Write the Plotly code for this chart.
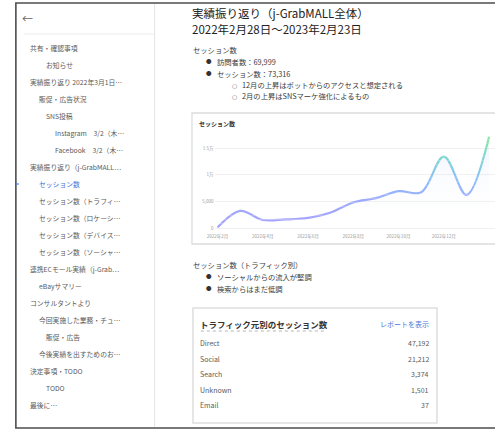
import plotly.graph_objects as go

W, H = 495, 432
FONT = "Noto Sans CJK JP"

# ---- monthly sessions (line chart) ----
months = ["2022年2月", "2022年3月", "2022年4月", "2022年5月", "2022年6月", "2022年7月",
          "2022年8月", "2022年9月", "2022年10月", "2022年11月", "2022年12月",
          "2023年1月", "2023年2月"]
sessions = [100, 3200, 1500, 1600, 1900, 2900, 4800, 5600, 6900, 6700, 13400, 6200, 17100]
x_tick_labels = ["2022年2月", "2022年4月", "2022年6月", "2022年8月", "2022年10月", "2022年12月"]
y_tick_values = [0, 5000, 10000, 15000]
y_tick_labels = ["0", "5,000", "1万", "1.5万"]

# ---- sessions by traffic source (table card) ----
traffic_sources = ["Direct", "Social", "Search", "Unknown", "Email"]
traffic_sessions = [47192, 21212, 3374, 1501, 37]

# ---- document outline (sidebar): indent level, label ----
outline_levels = [0, 2, 0, 1, 2, 3, 3, 0, 1, 1, 1, 1, 1, 0, 1, 0, 1, 2, 1, 0, 2, 0]
outline_labels = [
    "共有・確認事項", "お知らせ", "実績振り返り 2022年3月1日…", "販促・広告状況", "SNS投稿",
    "Instagram　3/2（木…", "Facebook　3/2（木…", "実績振り返り（j-GrabMALL…",
    "セッション数", "セッション数（トラフィ…", "セッション数（ロケーシ…",
    "セッション数（デバイス…", "セッション数（ソーシャ…", "連携ECモール実績（j-Grab…",
    "eBayサマリー", "コンサルタントより", "今回実施した業務・チュ…", "販促・広告",
    "今後実績を出すためのお…", "決定事項・TODO", "TODO", "最後に…",
]
active_index = 8

# ---- body text ----
title_lines = ["実績振り返り（j-GrabMALL全体）", "2022年2月28日〜2023年2月23日"]
section1 = "セッション数"
section1_bullets = ["訪問者数：69,999", "セッション数：73,316"]
section1_sub = ["12月の上昇はボットからのアクセスと想定される", "2月の上昇はSNSマーケ強化によるもの"]
section2 = "セッション数（トラフィック別）"
section2_bullets = ["ソーシャルからの流入が堅調", "検索からはまだ低調"]
chart_title = "セッション数"
table_title = "トラフィック元別のセッション数"
table_link = "レポートを表示"


def px(x):
    return x / W


def py(y):
    return 1 - y / H


annotations = []


def note(x, y, text, size=7.5, color="#333333", anchor="left", bold=False, family=FONT):
    annotations.append(dict(
        x=px(x), y=py(y), xref="paper", yref="paper", text=f"<b>{text}</b>" if bold else text,
        showarrow=False, xanchor=anchor, yanchor="middle", borderpad=0, borderwidth=0,
        font=dict(family=family, size=size, color=color),
    ))


shapes = []


def line(x0, y0, x1, y1, color, width=1, dash="solid", layer="above"):
    shapes.append(dict(type="line", xref="paper", yref="paper", x0=px(x0), y0=py(y0),
                       x1=px(x1), y1=py(y1), line=dict(color=color, width=width, dash=dash),
                       layer=layer))


def rect(x0, y0, x1, y1, color, width=1, layer="below"):
    shapes.append(dict(type="rect", xref="paper", yref="paper", x0=px(x0), y0=py(y0),
                       x1=px(x1), y1=py(y1), line=dict(color=color, width=width),
                       fillcolor="rgba(0,0,0,0)", layer=layer))


# ---- page frame and sidebar ----
rect(8, 3, W + 6, 428, "#4d4d4d", 1.6, layer="above")
line(149, 4, 149, 427, "#e4e4e4", 1)
line(16, 34, 149, 34, "#ececec", 1)
line(8, 184, 11, 184, "#4a80e0", 1.2)
note(14, 18, "←", size=11, color="#666666")

indent_x = [22, 32, 39, 48]
for i, (lvl, label) in enumerate(zip(outline_levels, outline_labels)):
    note(indent_x[lvl], 48 + 17 * i, label, size=6.8,
         color="#3b74d8" if i == active_index else "#5a5a5a")

# ---- document body ----
note(187, 13, title_lines[0], size=11.5, color="#222222")
note(187, 29, title_lines[1], size=11.5, color="#222222")

note(188, 50, section1, size=7.3, color="#3a3a3a")
for j, t in enumerate(section1_bullets):
    note(201, 62 + 12 * j, "●", size=5.5)
    note(212, 62 + 12 * j, t, size=7.3, color="#3a3a3a")
for j, t in enumerate(section1_sub):
    note(228, 85 + 11 * j, "○", size=6, color="#666666", family="DejaVu Sans")
    note(238, 85 + 11 * j, t, size=7.3, color="#3a3a3a")

note(188, 265, section2, size=7.3, color="#3a3a3a")
for j, t in enumerate(section2_bullets):
    note(201, 277 + 12 * j, "●", size=5.5)
    note(212, 277 + 12 * j, t, size=7.3, color="#3a3a3a")

# ---- chart card ----
rect(187, 113, W + 6, 244, "#dcdcdc", 1.3)
note(194, 124, chart_title, size=6, color="#333333", bold=True)

# ---- table card ----
rect(188, 308, 436, 423, "#dedede", 1.5)
note(195, 324, table_title, size=8.5, color="#333333", bold=True)
line(196, 331, 323, 331, "#b5b5b5", 1, dash="dot")
note(428, 324, table_link, size=7, color="#4a7bd6", anchor="right")
for k, (src, val) in enumerate(zip(traffic_sources, traffic_sessions)):
    yy = 343 + 15.6 * k
    note(195, yy, src, size=7, color="#5a5a5a")
    note(428, yy, f"{val:,}", size=7, color="#5a5a5a", anchor="right")

# ---- line chart geometry ----
PLOT_L, PLOT_R, PLOT_T, PLOT_B = 210, W, 131, 232
X0_PX, X_STEP = 213, 23.0           # first month position, pixels per month
Y0_PX, Y_SCALE = 228, 80 / 15000    # zero line position, pixels per session

x_range = [(PLOT_L - X0_PX) / X_STEP, (PLOT_R - X0_PX) / X_STEP]
y_range = [-(PLOT_B - Y0_PX) / Y_SCALE, (Y0_PX - PLOT_T) / Y_SCALE]
y_dom = [py(PLOT_B), py(PLOT_T)]
xs = list(range(len(months)))

fig = go.Figure()

# soft fill under the curve
fig.add_trace(go.Scatter(
    x=xs, y=sessions, mode="lines", line=dict(width=0, shape="spline", smoothing=1.0),
    fill="tozeroy", fillgradient=dict(type="vertical", colorscale=[
        [0, "rgba(255,255,255,0)"], [1, "rgba(165,185,250,0.16)"]]),
    hoverinfo="skip", showlegend=False, xaxis="x", yaxis="y",
))

# value-dependent line colour: the curve is drawn in horizontal bands,
# each band on its own axis with the same scale, so colour follows height
stops = [(0, (168, 162, 252)), (5000, (158, 170, 252)), (9000, (142, 190, 250)),
         (13000, (128, 214, 212)), (17000, (138, 232, 162)), (19000, (138, 232, 162))]


def colour_at(v):
    v = max(stops[0][0], min(stops[-1][0], v))
    for (a, ca), (b, cb) in zip(stops[:-1], stops[1:]):
        if a <= v <= b:
            t = (v - a) / (b - a)
            c = [round(ca[i] + (cb[i] - ca[i]) * t) for i in range(3)]
            return f"rgb({c[0]},{c[1]},{c[2]})"
    return "rgb(168,162,252)"


n_bands = 24
span = y_range[1] - y_range[0]
layout_axes = {}
for b in range(n_bands):
    lo = y_range[0] + span * b / n_bands
    hi = y_range[0] + span * (b + 1) / n_bands
    d0 = y_dom[0] + (y_dom[1] - y_dom[0]) * b / n_bands
    d1 = y_dom[0] + (y_dom[1] - y_dom[0]) * (b + 1) / n_bands
    ax_name = f"y{b + 2}"
    layout_axes[f"yaxis{b + 2}"] = dict(domain=[d0, d1], range=[lo, hi], visible=False,
                                        showgrid=False, zeroline=False, fixedrange=True,
                                        anchor="x")
    fig.add_trace(go.Scatter(
        x=xs, y=sessions, mode="lines",
        line=dict(color=colour_at((lo + hi) / 2), width=2.2, shape="spline", smoothing=1.0),
        hoverinfo="skip", showlegend=False, xaxis="x", yaxis=ax_name,
    ))

tick_idx = [months.index(t) for t in x_tick_labels]

fig.update_layout(
    width=W, height=H, margin=dict(l=0, r=0, t=0, b=0),
    paper_bgcolor="white", plot_bgcolor="rgba(0,0,0,0)",
    showlegend=False,
    xaxis=dict(domain=[px(PLOT_L), 1], range=x_range, showgrid=False, zeroline=False,
               showline=False, tickmode="array", tickvals=tick_idx, ticktext=x_tick_labels,
               tickfont=dict(family=FONT, size=4.5, color="#9a9a9a"), ticks="",
               fixedrange=True, anchor="y"),
    yaxis=dict(domain=y_dom, range=y_range, showgrid=True, gridcolor="#f0f0f0", gridwidth=1,
               zeroline=False, showline=False, tickmode="array", tickvals=y_tick_values,
               ticktext=y_tick_labels, tickfont=dict(family=FONT, size=4.5, color="#9a9a9a"),
               ticks="", fixedrange=True),
    annotations=annotations, shapes=shapes,
    **layout_axes,
)

fig.write_html(
    "out.html",
    config={"displayModeBar": False, "staticPlot": True},
    post_script="document.body.style.margin='0';document.documentElement.style.overflow='hidden';",
)
